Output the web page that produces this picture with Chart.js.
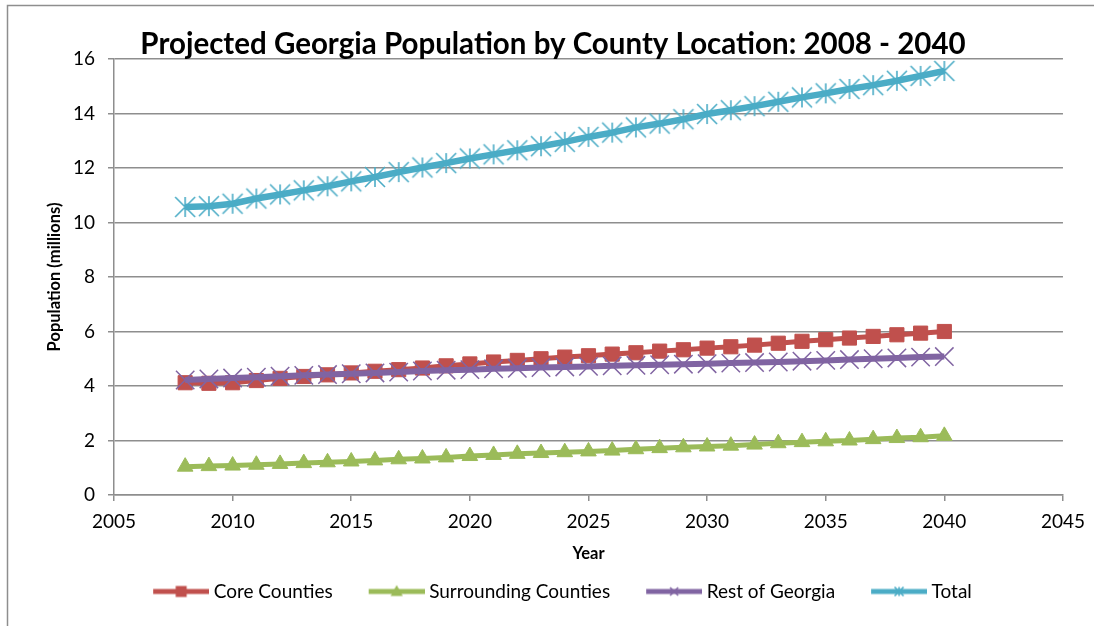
<!DOCTYPE html>
<html>
<head>
<meta charset="utf-8">
<title>Projected Georgia Population by County Location: 2008 - 2040</title>
<script src="https://cdn.jsdelivr.net/npm/chart.js@4/dist/chart.umd.min.js"></script>
<style>
  html, body { margin: 0; padding: 0; background: #ffffff; }
  #wrap { width: 1094px; height: 626px; position: relative; }
</style>
</head>
<body>
<div id="wrap"><canvas id="chart" width="1094" height="626"></canvas></div>
<script>
// Projection years (one point per year)
const years = [2008, 2009, 2010, 2011, 2012, 2013, 2014, 2015, 2016, 2017, 2018,
               2019, 2020, 2021, 2022, 2023, 2024, 2025, 2026, 2027, 2028, 2029,
               2030, 2031, 2032, 2033, 2034, 2035, 2036, 2037, 2038, 2039, 2040];

// Population in millions
const coreCounties = [4.12, 4.10, 4.12, 4.20, 4.28, 4.35, 4.41, 4.48, 4.54, 4.60, 4.66,
                      4.74, 4.81, 4.88, 4.94, 5.00, 5.06, 5.11, 5.17, 5.22, 5.28, 5.33,
                      5.39, 5.44, 5.50, 5.57, 5.64, 5.70, 5.76, 5.82, 5.88, 5.94, 6.00];
const surroundingCounties = [1.04, 1.06, 1.08, 1.11, 1.14, 1.17, 1.20, 1.23, 1.27, 1.31, 1.34,
                             1.38, 1.43, 1.47, 1.51, 1.54, 1.57, 1.60, 1.63, 1.68, 1.72, 1.75,
                             1.78, 1.81, 1.85, 1.90, 1.94, 1.97, 2.00, 2.05, 2.09, 2.12, 2.17];
const restOfGeorgia = [4.22, 4.26, 4.29, 4.32, 4.36, 4.39, 4.42, 4.45, 4.48, 4.51, 4.55,
                       4.58, 4.60, 4.63, 4.65, 4.68, 4.70, 4.72, 4.74, 4.76, 4.78, 4.80,
                       4.82, 4.84, 4.86, 4.88, 4.91, 4.94, 4.97, 5.00, 5.03, 5.06, 5.08];
const totalGeorgia = [10.57, 10.60, 10.69, 10.88, 11.03, 11.18, 11.33, 11.51, 11.67, 11.85, 12.02,
                      12.18, 12.35, 12.50, 12.65, 12.80, 12.96, 13.14, 13.30, 13.49, 13.63, 13.79,
                      13.98, 14.12, 14.27, 14.43, 14.59, 14.74, 14.90, 15.04, 15.20, 15.38, 15.56];

// Axis tick labels
const xTickValues = [2005, 2010, 2015, 2020, 2025, 2030, 2035, 2040, 2045];
const yTickValues = [0, 2, 4, 6, 8, 10, 12, 14, 16];

const seriesNames = ['Core Counties', 'Surrounding Counties', 'Rest of Georgia', 'Total'];

const COLORS = { core: '#C0504D', surr: '#9BBB59', rest: '#8064A2', total: '#4BACC6' };
const GRID = '#8e8e8e';
const FONT = 'Lato';

// Small marker shapes drawn onto a 2D context
function drawMarker(ctx, kind, cx, cy, s, color) {
  ctx.save();
  ctx.fillStyle = color;
  ctx.strokeStyle = color;
  ctx.lineCap = 'butt';
  if (kind === 'square') {
    ctx.fillRect(cx - s / 2, cy - s / 2, s, s);
  } else if (kind === 'triangle') {
    ctx.beginPath();
    ctx.moveTo(cx, cy - s * 0.6);
    ctx.lineTo(cx + s * 0.55, cy + s * 0.4);
    ctx.lineTo(cx - s * 0.55, cy + s * 0.4);
    ctx.closePath();
    ctx.fill();
  } else if (kind === 'x' || kind === 'asterisk') {
    const h = s / 2;
    ctx.lineWidth = 1.6;
    ctx.beginPath();
    ctx.moveTo(cx - h, cy - h); ctx.lineTo(cx + h, cy + h);
    ctx.moveTo(cx + h, cy - h); ctx.lineTo(cx - h, cy + h);
    if (kind === 'asterisk') {
      ctx.moveTo(cx, cy - h); ctx.lineTo(cx, cy + h);
    }
    ctx.stroke();
  }
  ctx.restore();
}

// Asterisk point image used for the Total series
function asteriskImage(color) {
  const c = document.createElement('canvas');
  c.width = 24; c.height = 24;
  drawMarker(c.getContext('2d'), 'asterisk', 12, 12, 20, color);
  return c;
}

// Legend sample: a short line with the series marker in the middle
function legendSample(kind, color, markerSize) {
  const c = document.createElement('canvas');
  c.width = 80; c.height = 20;
  const ctx = c.getContext('2d');
  ctx.strokeStyle = color;
  ctx.lineWidth = 5;
  ctx.beginPath();
  ctx.moveTo(24, 10); ctx.lineTo(80, 10);
  ctx.stroke();
  drawMarker(ctx, kind, 52, 10, markerSize, color);
  return c;
}

const legendSamples = [
  legendSample('square', COLORS.core, 11),
  legendSample('triangle', COLORS.surr, 11),
  legendSample('x', COLORS.rest, 8),
  legendSample('asterisk', COLORS.total, 9)
];

const toPoints = (vals) => years.map((yr, i) => ({ x: yr, y: vals[i] }));

// White background and outer frame of the chart
const chartFrame = {
  id: 'chartFrame',
  beforeDraw(chart) {
    const ctx = chart.ctx;
    ctx.save();
    ctx.fillStyle = '#ffffff';
    ctx.fillRect(0, 0, chart.width, chart.height);
    ctx.strokeStyle = GRID;
    ctx.lineWidth = 1.5;
    ctx.strokeRect(7.5, 5.5, chart.width + 20, chart.height + 20);
    ctx.restore();
  }
};

new Chart(document.getElementById('chart'), {
  type: 'line',
  data: {
    datasets: [
      {
        label: seriesNames[0],
        data: toPoints(coreCounties),
        borderColor: COLORS.core,
        backgroundColor: COLORS.core,
        borderWidth: 5,
        pointStyle: 'rect',
        pointRadius: 10,
        pointBorderWidth: 1,
        pointBackgroundColor: COLORS.core,
        pointBorderColor: COLORS.core,
        order: 3
      },
      {
        label: seriesNames[1],
        data: toPoints(surroundingCounties),
        borderColor: COLORS.surr,
        backgroundColor: COLORS.surr,
        borderWidth: 5,
        pointStyle: 'triangle',
        pointRadius: 9,
        pointBorderWidth: 1,
        pointBackgroundColor: COLORS.surr,
        pointBorderColor: COLORS.surr,
        order: 2
      },
      {
        label: seriesNames[2],
        data: toPoints(restOfGeorgia),
        borderColor: COLORS.rest,
        backgroundColor: COLORS.rest,
        borderWidth: 6,
        pointStyle: 'crossRot',
        pointRadius: 13,
        pointBorderWidth: 1.5,
        pointBorderColor: COLORS.rest,
        order: 1
      },
      {
        label: seriesNames[3],
        data: toPoints(totalGeorgia),
        borderColor: COLORS.total,
        backgroundColor: COLORS.total,
        borderWidth: 6.5,
        pointStyle: asteriskImage(COLORS.total),
        pointRadius: 10,
        order: 0
      }
    ]
  },
  options: {
    responsive: false,
    animation: false,
    devicePixelRatio: 1,
    layout: { padding: { left: 43, right: 31, top: 29.5, bottom: 15 } },
    elements: { line: { tension: 0 } },
    plugins: {
      title: {
        display: true,
        text: 'Projected Georgia Population by County Location: 2008 - 2040',
        color: '#000000',
        font: { family: FONT, size: 29.5, weight: 'bold', lineHeight: 1 },
        padding: 0
      },
      legend: {
        position: 'bottom',
        labels: {
          usePointStyle: true,
          pointStyleWidth: 70,
          padding: 17,
          color: '#000000',
          font: { family: FONT, size: 19 },
          generateLabels(chart) {
            return chart.data.datasets.map((ds, i) => ({
              text: ds.label,
              pointStyle: legendSamples[i],
              fillStyle: ds.borderColor,
              strokeStyle: ds.borderColor,
              lineWidth: 0,
              fontColor: '#000000',
              hidden: !chart.isDatasetVisible(i),
              datasetIndex: i
            }));
          }
        }
      },
      tooltip: { enabled: false }
    },
    scales: {
      x: {
        type: 'linear',
        min: 2005,
        max: 2045,
        afterBuildTicks(scale) { scale.ticks = xTickValues.map(v => ({ value: v })); },
        afterFit(scale) { scale.height = 70; },
        ticks: {
          color: '#000000',
          font: { family: FONT, size: 19 },
          padding: 9,
          maxRotation: 0,
          callback: (v) => String(v)
        },
        grid: { drawOnChartArea: false, drawTicks: true, tickLength: 6, color: GRID, lineWidth: 1.5 },
        border: { display: true, color: GRID, width: 1.5 },
        title: {
          display: true,
          text: 'Year',
          color: '#000000',
          font: { family: FONT, size: 16.5, weight: 'bold', lineHeight: 1.2 },
          padding: { top: 0, bottom: 1 }
        }
      },
      y: {
        min: 0,
        max: 16,
        afterBuildTicks(scale) { scale.ticks = yTickValues.map(v => ({ value: v })); },
        afterFit(scale) { scale.width = 71; },
        ticks: {
          color: '#000000',
          font: { family: FONT, size: 19 },
          padding: 13,
          callback: (v) => String(v)
        },
        grid: { drawTicks: true, tickLength: 6, color: GRID, lineWidth: 1.5 },
        border: { display: true, color: GRID, width: 1.5 },
        title: {
          display: true,
          text: 'Population (millions)',
          color: '#000000',
          font: { family: FONT, size: 16.5, weight: 'bold', lineHeight: 1.2 },
          padding: { top: 2, bottom: 0 }
        }
      }
    }
  },
  plugins: [chartFrame]
});
</script>
</body>
</html>
